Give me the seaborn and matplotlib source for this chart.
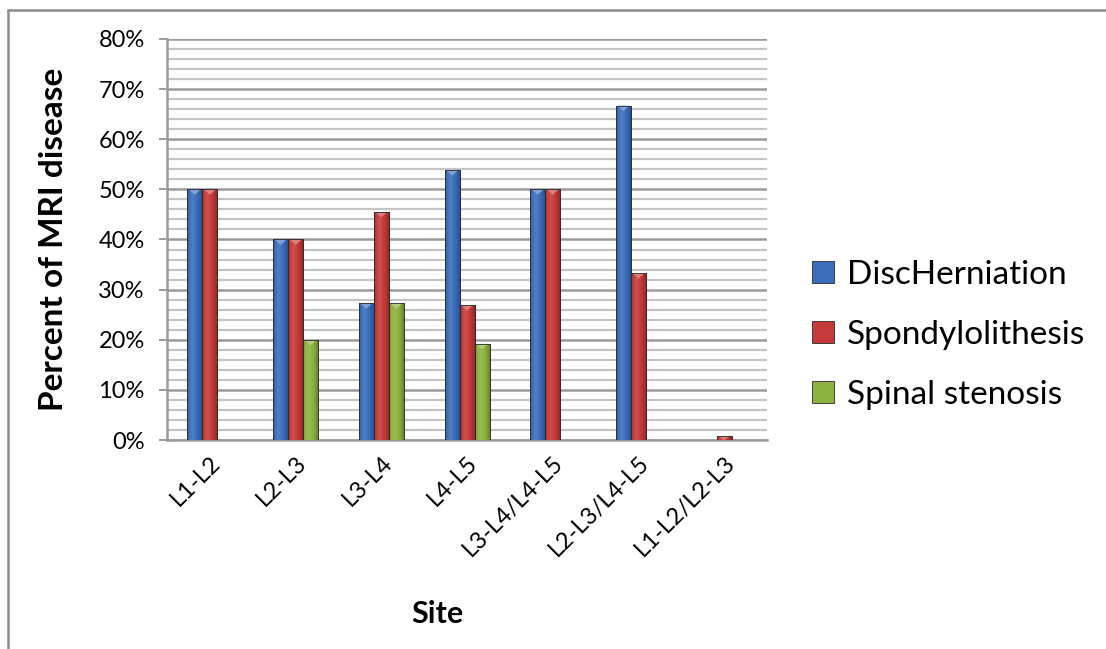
import numpy as np
import pandas as pd
import seaborn as sns
import matplotlib.pyplot as plt
from matplotlib.lines import Line2D
from matplotlib.patches import Polygon
from matplotlib.colors import to_rgb
from matplotlib.ticker import MultipleLocator, PercentFormatter

# Share of MRI findings by spinal site (percent)
sites = ["L1-L2", "L2-L3", "L3-L4", "L4-L5", "L3-L4/L4-L5", "L2-L3/L4-L5", "L1-L2/L2-L3"]
disc_herniation = [50.0, 40.0, 27.3, 53.8, 50.0, 66.7, np.nan]
spondylolisthesis = [50.0, 40.0, 45.5, 26.9, 50.0, 33.3, 0.8]
spinal_stenosis = [np.nan, 20.0, 27.3, 19.2, np.nan, np.nan, np.nan]
series_names = ["DiscHerniation", "Spondylolithesis", "Spinal stenosis"]
y_ticks = [0, 10, 20, 30, 40, 50, 60, 70, 80]

df = pd.DataFrame({
    "Site": sites * 3,
    "Finding": np.repeat(series_names, len(sites)),
    "Percent": disc_herniation + spondylolisthesis + spinal_stenosis,
})

sns.set_theme(style="white")
plt.rcParams["font.family"] = ["Lato", "DejaVu Sans"]
plt.rcParams["text.color"] = "black"
plt.rcParams["axes.labelcolor"] = "black"
plt.rcParams["xtick.color"] = "black"
plt.rcParams["ytick.color"] = "black"

fig = plt.figure(figsize=(11.06, 6.49), dpi=100)
ax = fig.add_axes([0.151, 0.322, 0.5425, 0.618])

palette = {"DiscHerniation": "#3A6EBB",
           "Spondylolithesis": "#C63A39",
           "Spinal stenosis": "#8DB23F"}
sns.barplot(data=df, x="Site", y="Percent", hue="Finding", order=sites,
            hue_order=series_names, palette=palette, width=0.525,
            saturation=1, edgecolor="#2a2a2a", linewidth=0.6, ax=ax, zorder=3)


def shade(rgb, f):
    rgb = np.array(rgb)
    if f >= 1:
        return rgb + (1 - rgb) * (f - 1)
    return rgb * f


# Give each bar a rounded, lit look: a horizontal gradient and a pale cap
for bar in list(ax.patches):
    h = bar.get_height()
    if not np.isfinite(h) or h <= 0:
        continue
    base = to_rgb(bar.get_facecolor())
    x0, w = bar.get_x(), bar.get_width()
    t = np.linspace(0, 1, 64)
    prof = np.interp(t, [0, 0.12, 0.35, 0.7, 1.0], [0.72, 1.0, 1.12, 0.95, 0.7])
    grad = np.array([shade(base, f) for f in prof]).clip(0, 1)[None, :, :]
    im = ax.imshow(grad, extent=(x0, x0 + w, 0, h), aspect="auto",
                   origin="lower", zorder=3.5, interpolation="bilinear")
    im.set_clip_path(bar)
    cap = min(1.1, h)
    ax.add_patch(Polygon([(x0 + w * 0.1, h), (x0 + w * 0.9, h), (x0 + w * 0.5, h - cap)],
                         closed=True, facecolor=shade(base, 1.35).clip(0, 1),
                         edgecolor="none", zorder=3.6))
    ax.add_patch(plt.Rectangle((x0, 0), w, h, fill=False, edgecolor="#2a2a2a",
                               linewidth=0.6, zorder=3.7))

ax.set_ylim(0, 80)
ax.set_xlim(-0.5, len(sites) - 0.5)
ax.set_yticks(y_ticks)
ax.yaxis.set_major_formatter(PercentFormatter(decimals=0))
ax.yaxis.set_minor_locator(MultipleLocator(2))
ax.grid(axis="y", which="minor", color="#c4c4c4", linewidth=1.6, zorder=0)
ax.grid(axis="y", which="major", color="#9a9a9a", linewidth=1.8, zorder=0)
ax.set_axisbelow(True)

for side in ["top", "right"]:
    ax.spines[side].set_visible(False)
for side in ["left", "bottom"]:
    ax.spines[side].set_color("#9a9a9a")
    ax.spines[side].set_linewidth(1.8)

ax.tick_params(axis="y", which="major", length=6, width=1.4, color="#9a9a9a",
               pad=10, labelsize=17, left=True, labelcolor="black")
ax.tick_params(axis="y", which="minor", length=0)
ax.tick_params(axis="x", length=0, pad=9, labelsize=17, labelcolor="black")
plt.setp(ax.get_xticklabels(), rotation=45, ha="right", rotation_mode="anchor")

ax.set_ylabel("Percent of MRI disease", fontsize=24, fontweight="bold")
ax.yaxis.set_label_coords(-0.165, 0.5)
ax.set_xlabel("Site", fontsize=22, fontweight="bold")
ax.xaxis.set_label_coords(0.45, -0.4)

leg = ax.legend(loc="center left", bbox_to_anchor=(1.075, 0.262), frameon=False,
                fontsize=24, handlelength=0.65, handleheight=0.65,
                handletextpad=0.4, labelspacing=0.9, borderaxespad=0, borderpad=0)
for h in leg.legend_handles:
    h.set_edgecolor("#2a2a2a")
    h.set_linewidth(0.6)

# Chart border along the top and left edges
fig.add_artist(Line2D([0.0075, 1.0], [0.9845, 0.9845], color="#8c8c8c",
                      linewidth=1.8, transform=fig.transFigure))
fig.add_artist(Line2D([0.0075, 0.0075], [0.0, 0.9845], color="#8c8c8c",
                      linewidth=1.8, transform=fig.transFigure))

fig.savefig("out.png", dpi=100)
